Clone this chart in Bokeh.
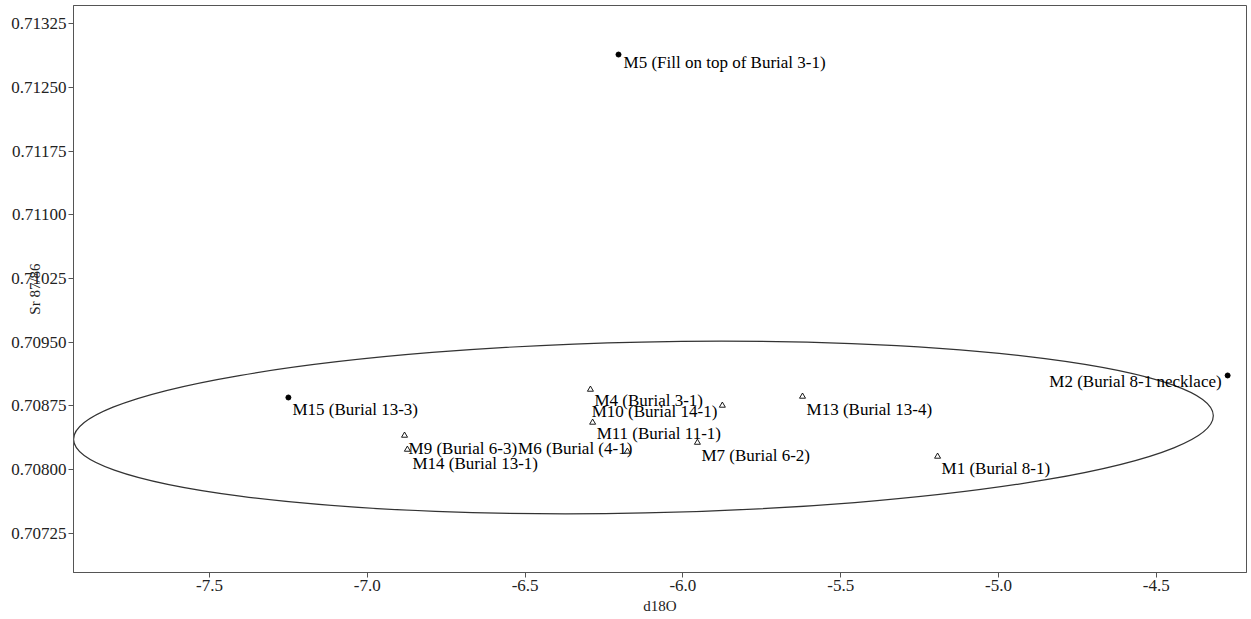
from bokeh.plotting import figure
from bokeh.models import ColumnDataSource, FixedTicker, PrintfTickFormatter, Range1d, CDSView, GroupFilter
from bokeh.core.properties import value
from bokeh.embed import file_html
from bokeh.resources import INLINE

# ---- data ----
labels = ["M5 (Fill on top of Burial 3-1)", "M2 (Burial 8-1 necklace)", "M15 (Burial 13-3)",
          "M9 (Burial 6-3)", "M14 (Burial 13-1)", "M6 (Burial (4-1)", "M4 (Burial 3-1)",
          "M10 (Burial 14-1)", "M11 (Burial 11-1)", "M7 (Burial 6-2)", "M13 (Burial 13-4)",
          "M1 (Burial 8-1)"]
d18O = [-6.204, -4.274, -7.250, -6.882, -6.873, -6.176, -6.293, -5.875, -6.286, -5.954, -5.621, -5.193]
sr8786 = [0.712885, 0.709109, 0.708850, 0.708403, 0.708238, 0.708215, 0.708944, 0.708756,
          0.708556, 0.708320, 0.708862, 0.708156]
group = ["dot", "dot", "dot", "tri", "tri", "tri", "tri", "tri", "tri", "tri", "tri", "tri"]

x_ticks = [-7.5, -7.0, -6.5, -6.0, -5.5, -5.0, -4.5]
y_ticks = [0.70725, 0.70800, 0.70875, 0.70950, 0.71025, 0.71100, 0.71175, 0.71250, 0.71325]

# ellipse (centre, full axes, tilt)
ell_x, ell_y = -6.125, 0.708497
ell_w, ell_h = 3.612, 0.002012
ell_angle = 0.021

# ---- label placement (screen px) ----
label_align = ["left", "right", "left", "left", "left", "right", "left", "right", "left", "left", "left", "left"]
label_dx = [5, -6, 4, 4, 5, 5, 4, -5, 4, 4, 4, 4]
label_dy = [8, 6, 12, 13, 14, -3, 11, 6, 11, 13, 13, 12]

FONT = "Liberation Serif"
GRAY = "#555555"

src = ColumnDataSource(dict(x=d18O, y=sr8786, text=labels, g=group, align=label_align,
                            dx=label_dx, dy=label_dy))

p = figure(frame_width=1173, frame_height=567,
           x_range=Range1d(-7.9309, -4.2142), y_range=Range1d(0.706791, 0.713462),
           output_backend="svg", toolbar_location=None,
           min_border_left=73, min_border_right=2, min_border_top=5, min_border_bottom=0)
p.grid.visible = False
p.outline_line_color = GRAY
p.outline_line_width = 1
p.background_fill_color = "white"
p.border_fill_color = "white"

# ellipse
p.ellipse(x=[ell_x], y=[ell_y], width=[ell_w], height=[ell_h], angle=[ell_angle],
          fill_color=None, line_color="#333333", line_width=1.2)

# markers
dots = CDSView(filter=GroupFilter(column_name="g", group="dot"))
tris = CDSView(filter=GroupFilter(column_name="g", group="tri"))
p.scatter("x", "y", source=src, view=dots, marker="circle", size=5,
          fill_color="black", line_color="black")
p.scatter("x", "y", source=src, view=tris, marker="triangle", size=6,
          fill_color=None, line_color="black", line_width=0.9)

left_v = CDSView(filter=GroupFilter(column_name="align", group="left"))
right_v = CDSView(filter=GroupFilter(column_name="align", group="right"))
for view, al in ((left_v, "left"), (right_v, "right")):
    p.text("x", "y", text="text", source=src, view=view, x_offset="dx", y_offset="dy",
           text_align=al, text_baseline="alphabetic", text_font=value(FONT),
           text_font_size="17px", text_color="black")

# axes
for ax in (p.xaxis[0], p.yaxis[0]):
    ax.axis_line_color = GRAY
    ax.major_tick_line_color = GRAY
    ax.major_tick_out = 5
    ax.major_tick_in = 0
    ax.minor_tick_line_color = None
    ax.major_label_text_font = FONT
    ax.major_label_text_font_size = "17px"
    ax.major_label_text_color = "#222222"
    ax.major_label_standoff = 2
    ax.axis_label_text_font = FONT
    ax.axis_label_text_font_style = "normal"
    ax.axis_label_text_font_size = "15px"
    ax.axis_label_text_color = "#222222"

p.xaxis[0].ticker = FixedTicker(ticks=x_ticks, minor_ticks=[])
p.xaxis[0].formatter = PrintfTickFormatter(format="%.1f")
p.xaxis[0].axis_label = "d18O"
p.xaxis[0].axis_label_standoff = 4

p.yaxis[0].ticker = FixedTicker(ticks=y_ticks, minor_ticks=[])
p.yaxis[0].formatter = PrintfTickFormatter(format="%.5f")
p.yaxis[0].axis_label = "Sr 87/86"
p.yaxis[0].axis_label_standoff = -35

open("out.html", "w").write(file_html(p, INLINE))
